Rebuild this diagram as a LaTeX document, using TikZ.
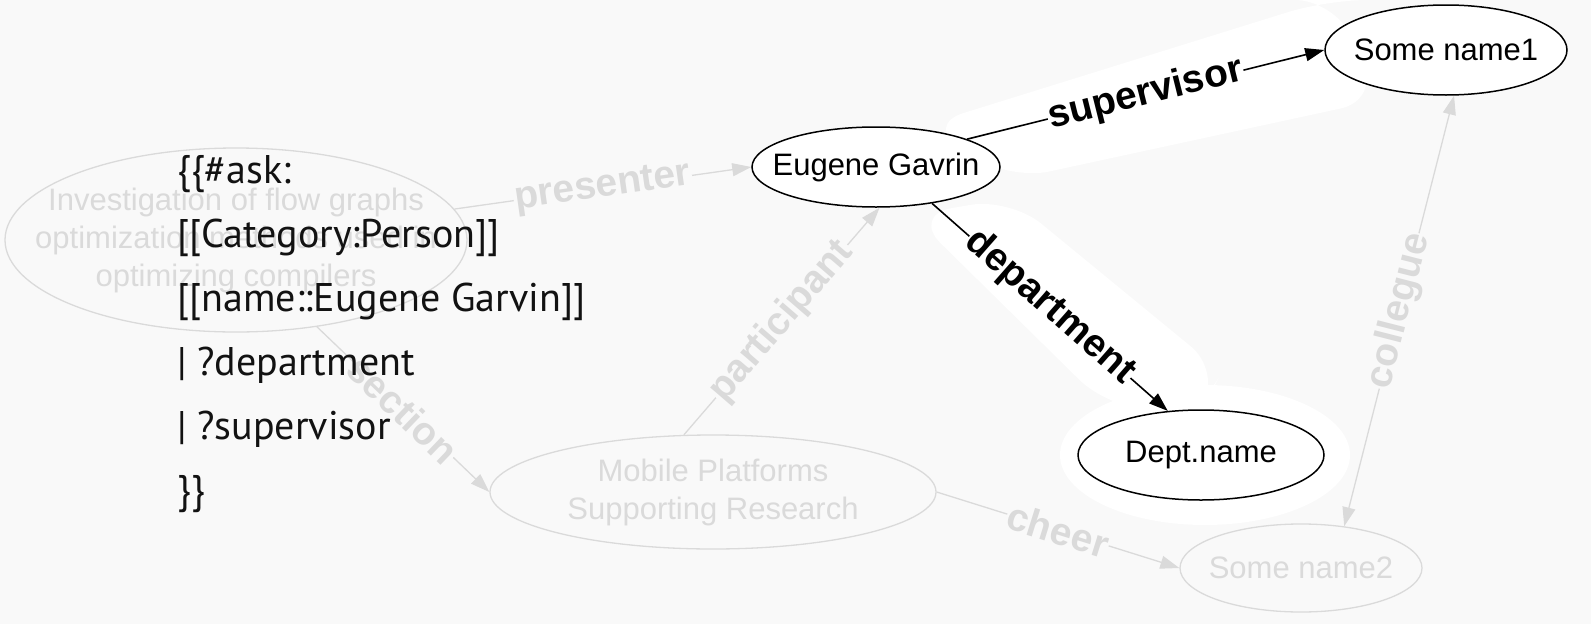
\documentclass[tikz,border=0pt]{standalone}
\usepackage{fontspec}
\setmainfont{Liberation Sans}
\newfontfamily\askfont{PT Sans}
\usetikzlibrary{shapes.geometric,arrows.meta}
\definecolor{bgray}{HTML}{F9F9F9}
\definecolor{faded}{HTML}{DADADA}

\begin{document}
\begin{tikzpicture}[x=1pt,y=-1pt,
  ent/.style={ellipse, draw, line width=1.5pt, fill=white, inner sep=0pt},
  oldent/.style={ellipse, draw=faded, line width=1.3pt, inner sep=0pt},
  txt/.style={font=\fontsize{31}{38}\selectfont, align=center},
  rel/.style={line width=1.6pt, -{Triangle[length=19pt,width=13pt]}},
  oldrel/.style={draw=faded, line width=1.3pt, -{Triangle[length=19pt,width=13pt]}},
  lbl/.style={sloped, font=\bfseries\fontsize{39}{39}\selectfont, fill=white, inner sep=1pt},
  oldlbl/.style={lbl, text=faded, fill=bgray}]
\useasboundingbox (0,0) rectangle (1591,624);
\fill[bgray] (0,0) rectangle (1591,624);
% white glow round the query result
\fill[white, rounded corners=40pt] (925,125) -- (1327,0) -- (1335,0) -- (1380,100) -- (1010,180) -- cycle;
\fill[white, rounded corners=40pt] (912,215) -- (1010,198) -- (1222,372) -- (1200,412) -- (1108,408) -- cycle;
\fill[white] (1205,455) ellipse (145pt and 70pt);

% old graph
\node[oldent, minimum width=462pt, minimum height=184pt,
  label={[txt,faded]center:{Investigation of flow graphs\\optimization methods used in\\optimizing compilers}}] (inv) at (236,240) {};
\node[oldent, minimum width=446pt, minimum height=114pt,
  label={[txt,faded]center:{Mobile Platforms\\Supporting Research}}] (mob) at (713,492) {};
\node[oldent, minimum width=242pt, minimum height=88pt,
  label={[txt,faded]center:Some name2}] (sn2) at (1301,568) {};

% query result
\node[ent, minimum width=248pt, minimum height=80pt, label={[txt]center:Eugene Gavrin}] (eg) at (876,167) {};
\node[ent, minimum width=242pt, minimum height=90pt, label={[txt]center:Some name1}] (sn1) at (1446,50) {};
\node[ent, minimum width=246pt, minimum height=90pt, label={[txt]center:Dept.name}] (dept) at (1201,455) {};

\draw[oldrel] (inv) -- node[oldlbl] {presenter} (eg.west);
\draw[oldrel] (mob.117) -- node[oldlbl] {participant} (eg.275);
\draw[oldrel] (inv.-47) -- node[oldlbl] {section} (mob.west);
\draw[oldrel] (mob.east) -- node[oldlbl] {cheer} (sn2.west);
\draw[oldrel, {Triangle[length=19pt,width=13pt]}-{Triangle[length=19pt,width=13pt]}] (sn2.44) -- node[oldlbl] {collegue} (sn1.-80);

\draw[rel] (eg.17) -- node[lbl] {supervisor} (sn1.west);
\draw[rel] (eg.-33) -- node[lbl] {department} (dept.127);

% the query
\node[anchor=north west, align=left, inner sep=0pt, text=black!93,
  font=\askfont\fontsize{40}{64}\selectfont] (ask) at (177,155)
  {\{\{\#ask:\\{}[[Category:Person]]\\{}[[name::Eugene Garvin]]\\| ?department\\| ?supervisor\\\}\}};
\end{tikzpicture}
\end{document}
